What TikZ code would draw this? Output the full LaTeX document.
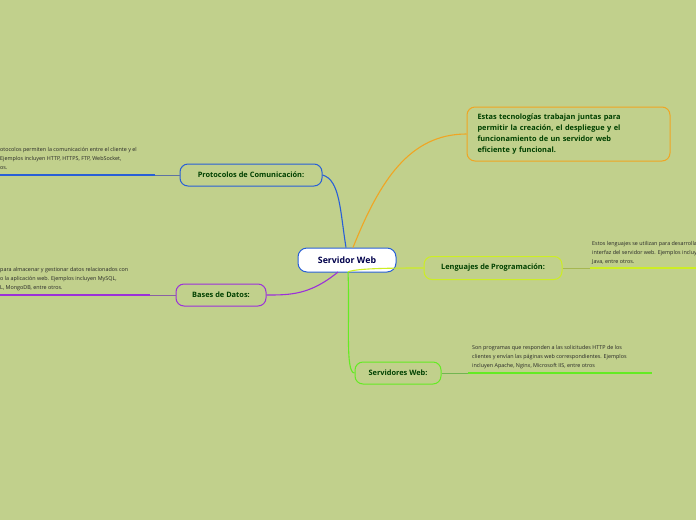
\documentclass[tikz,border=0pt]{standalone}
\usepackage{fontspec}
\setmainfont{Open Sans}
\begin{document}
\begin{tikzpicture}[x=1pt,y=-1pt,
  topic/.style={draw=#1,line width=1pt,rounded corners=8pt,fill=none,font=\bfseries\fontsize{7.4}{9}\selectfont,text=green!25!black,inner sep=0pt},
  leaf/.style={anchor=west,font=\fontsize{5.4}{6}\selectfont,text=black!85,inner sep=0pt},
  conn/.style={line width=1.1pt}]
\fill[fill={rgb,255:red,193;green,208;blue,140}] (0,0) rectangle (696,520);
\useasboundingbox (0,0) rectangle (696,520);
\definecolor{cb}{RGB}{40,95,215}\definecolor{cp}{RGB}{155,48,217}
\definecolor{co}{RGB}{240,165,35}\definecolor{cy}{RGB}{205,238,35}\definecolor{cg}{RGB}{100,235,35}
\node[draw=cb,line width=1pt,rounded corners=9pt,fill=white,minimum width=98pt,minimum height=24pt,font=\bfseries\fontsize{8.8}{10}\selectfont,text=blue!30!black] (sw) at (347,260) {Servidor Web};
\node[topic=cb,minimum width=142pt,minimum height=22pt] (pc) at (251,175) {Protocolos de Comunicación:};
\node[topic=cp,minimum width=90pt,minimum height=22pt] (bd) at (221,295) {Bases de Datos:};
\node[topic=co,minimum width=203pt,minimum height=54pt,align=left,font=\bfseries\fontsize{7.4}{11.3}\selectfont,text width=182pt] (et) at (568.5,134) {Estas tecnologías trabajan juntas para\\ permitir la creación, el despliegue y el\\ funcionamiento de un servidor web\\ eficiente y funcional.};
\node[topic=cy,minimum width=138pt,minimum height=23pt] (lp) at (493,268) {Lenguajes de Programación:};
\node[topic=cg,minimum width=86pt,minimum height=22pt] (sv) at (398,373) {Servidores Web:};
\draw[conn,cb] (sw.north) ++(-1,0) .. controls (340,210) and (340,180) .. (pc.east);
\draw[conn,co] (sw.north) ++(6,0) .. controls (380,180) and (410,134) .. (et.west);
\draw[conn,cy] (348,272) .. controls (355,268) and (400,268) .. (lp.west);
\draw[conn,cg] (348,272) .. controls (350,320) and (345,373) .. (sv.west);
\draw[conn,cp] (338,272) .. controls (310,295) and (290,295) .. (bd.east);
% leaves
\coordinate (pl1) at (155,175); \coordinate (pl0) at (0,175);
\draw[line width=1pt,cb!40!gray] (pc.west) -- (pl1); \draw[line width=1.3pt,cb] (pl1) -- (pl0);
\node[leaf] (pt1) at (0,150) {otocolos permiten la comunicación entre el cliente y el};
\node[leaf] (pt2) at (0,159) {Ejemplos incluyen HTTP, HTTPS, FTP, WebSocket,};
\node[leaf] (pt3) at (0,168) {os.};
\coordinate (bl1) at (150,295); \coordinate (bl0) at (0,295);
\draw[line width=1pt,cp!40!gray] (bd.west) -- (bl1); \draw[line width=1.3pt,cp] (bl1) -- (bl0);
\node[leaf] (bt1) at (0,270) {para almacenar y gestionar datos relacionados con};
\node[leaf] (bt2) at (0,279) {o la aplicación web. Ejemplos incluyen MySQL,};
\node[leaf] (bt3) at (0,288) {L, MongoDB, entre otros.};
\coordinate (ll1) at (590,268); \coordinate (ll0) at (696,268);
\draw[line width=1pt,cy!50!gray] (lp.east) -- (ll1); \draw[line width=1.3pt,cy] (ll1) -- (ll0);
\node[leaf] (lt1) at (592,244) {Estos lenguajes se utilizan para desarrollar};
\node[leaf] (lt2) at (592,253) {interfaz del servidor web. Ejemplos incluyen};
\node[leaf] (lt3) at (592,262) {Java, entre otros.};
\coordinate (sl1) at (468,373); \coordinate (sl0) at (652,373);
\draw[line width=1pt,cg!50!gray] (sv.east) -- (sl1); \draw[line width=1.3pt,cg] (sl1) -- (sl0);
\node[leaf] (st1) at (472,348) {Son programas que responden a las solicitudes HTTP de los};
\node[leaf] (st2) at (472,357) {clientes y envían las páginas web correspondientes. Ejemplos};
\node[leaf] (st3) at (472,366) {incluyen Apache, Nginx, Microsoft IIS, entre otros};
\end{tikzpicture}
\end{document}
